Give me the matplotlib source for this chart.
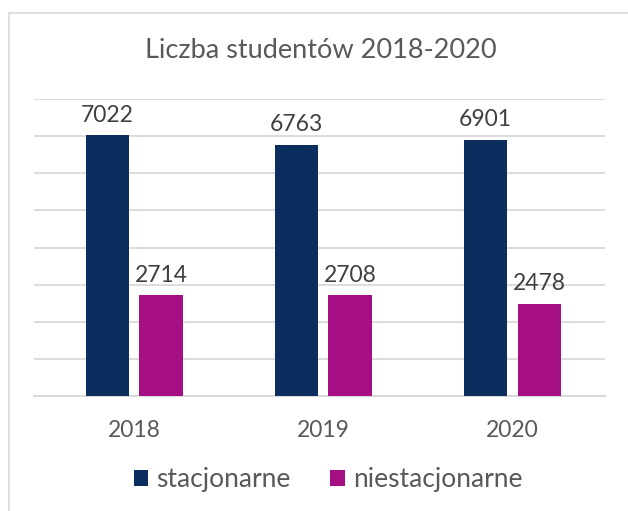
import numpy as np
import matplotlib.pyplot as plt
from matplotlib.patches import Rectangle

years = ["2018", "2019", "2020"]
stacjonarne = [7022, 6763, 6901]
niestacjonarne = [2714, 2708, 2478]
series_names = ["stacjonarne", "niestacjonarne"]

navy = "#0C2E5F"
magenta = "#A60F84"
text_col = "#595959"
grid_col = "#D9D9D9"

plt.rcParams['font.family'] = ['Lato', 'DejaVu Sans']

fig = plt.figure(figsize=(6.28, 5.11), dpi=100)
ax = fig.add_axes([34 / 628, 1 - 396 / 511, 571 / 628, 297 / 511])

# frame around the whole chart
fig.patches.append(Rectangle((9 / 628, -0.05), 1.2, 1 - 13 / 511 + 0.05,
                             transform=fig.transFigure, fill=False,
                             edgecolor=grid_col, linewidth=1.2))

x = np.arange(len(years))
w = 0.228
off = 0.1415
b1 = ax.bar(x - off, stacjonarne, w, color=navy, label=series_names[0], zorder=3)
b2 = ax.bar(x + off, niestacjonarne, w, color=magenta, label=series_names[1], zorder=3)

for bars in (b1, b2):
    for r in bars:
        ax.annotate(str(int(r.get_height())), (r.get_x() + r.get_width() / 2, r.get_height()),
                    xytext=(0, 7), textcoords="offset points", ha="center", va="bottom",
                    fontsize=16.5, color="#404040")

ax.set_xlim(-0.53, 2.49)
ax.set_ylim(0, 8000)
ax.set_yticks(np.arange(0, 8001, 1000))
ax.yaxis.grid(True, color=grid_col, linewidth=1.3, zorder=0)
ax.tick_params(axis="y", left=False, labelleft=False)
ax.tick_params(axis="x", bottom=False, labelsize=16.5, labelcolor=text_col, pad=14)
ax.set_xticks(x)
ax.set_xticklabels(years)
for s in ["top", "right", "left"]:
    ax.spines[s].set_visible(False)
ax.spines["bottom"].set_color(grid_col)
ax.spines["bottom"].set_linewidth(1.5)

fig.text(321 / 628, 1 - 50 / 511, "Liczba studentów 2018-2020", ha="center", va="center",
         fontsize=19.5, color=text_col)

fig.legend(loc="center", bbox_to_anchor=(328 / 628, 1 - 480 / 511), ncol=2, frameon=False,
           fontsize=19, labelcolor=text_col, handlelength=0.55, handleheight=0.55,
           handletextpad=0.3, columnspacing=1.5)

plt.savefig("out.png", dpi=100)
